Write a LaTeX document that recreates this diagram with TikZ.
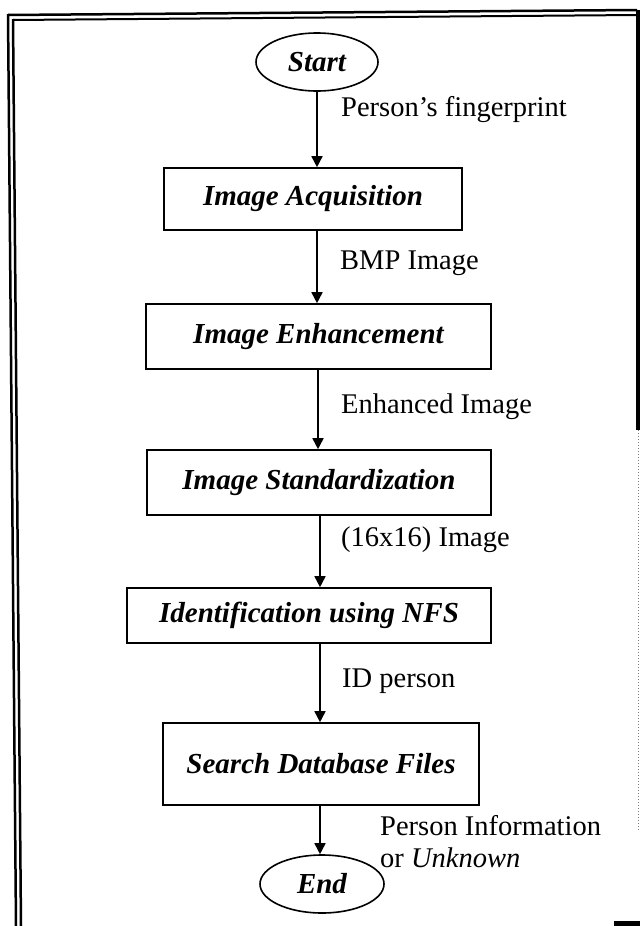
\documentclass[tikz,border=0pt]{standalone}
\usepackage{fontspec}
\setmainfont{Liberation Serif}
\usetikzlibrary{arrows.meta,shapes.geometric}
\tikzset{
  procbox/.style={draw, line width=1.6pt, rectangle, inner sep=0pt,
    font=\fontsize{29}{31}\selectfont\bfseries\itshape},
  term/.style={draw, line width=1.6pt, ellipse, inner sep=0pt,
    font=\fontsize{29}{31}\selectfont\bfseries\itshape},
  lbl/.style={anchor=west, inner sep=0pt, font=\fontsize{28.5}{32}\selectfont},
  arr/.style={line width=1.6pt, -{Triangle[length=11pt,width=11pt]}},
  frameline/.style={line width=5pt}
}
\begin{document}
\begin{tikzpicture}[x=1pt,y=-1pt]
\useasboundingbox (0,0) rectangle (640,926);
% frame
\draw[line width=2.5pt] (8,14) -- (16,926);
\draw[line width=2.5pt] (13,19) -- (21,926);
\draw[line width=2.5pt] (8,15) -- (637,10);
\draw[line width=2pt] (13,20) -- (637,15);
\draw[line width=3.5pt] (638,10) -- (638,430);
\draw[line width=1pt, dotted, gray] (638,430) -- (638,830);
\fill (614,921) rectangle (640,926);
% nodes
\node[term, minimum width=122pt, minimum height=58pt] (start) at (317,62) {Start};
\node[procbox, minimum width=298pt, minimum height=62pt] (acq) at (313,199) {Image Acquisition};
\node[procbox, minimum width=345pt, minimum height=65pt] (enh) at (318.5,336.5) {Image Enhancement};
\node[procbox, minimum width=344pt, minimum height=65pt] (std) at (319,482.5) {Image Standardization};
\node[procbox, minimum width=364pt, minimum height=55pt] (nfs) at (309,615.5) {Identification using NFS};
\node[procbox, minimum width=316pt, minimum height=82pt] (db) at (321,764) {Search Database Files};
\node[term, minimum width=124pt, minimum height=58pt] (end) at (322,884) {End};
% arrow columns
\coordinate (c1) at (317,0);
\coordinate (c2) at (317,0);
\coordinate (c3) at (318,0);
\coordinate (c4) at (320,0);
\coordinate (c5) at (320,0);
\coordinate (c6) at (320,0);
\draw[arr] (start.south -| c1) -- (acq.north -| c1);
\draw[arr] (acq.south -| c2) -- (enh.north -| c2);
\draw[arr] (enh.south -| c3) -- (std.north -| c3);
\draw[arr] (std.south -| c4) -- (nfs.north -| c4);
\draw[arr] (nfs.south -| c5) -- (db.north -| c5);
\draw[arr] (db.south -| c6) -- (end.north -| c6);
% labels
\node[lbl] (l1) at (341,110) {Person's fingerprint};
\node[lbl] (l2) at (340,263) {BMP Image};
\node[lbl] (l3) at (341,407) {Enhanced Image};
\node[lbl] (l4) at (341,540) {(16x16) Image};
\node[lbl] (l5) at (342,681) {ID person};
\node[lbl, align=left] (l6) at (380,842) {Person Information\\or \textit{Unknown}};
\end{tikzpicture}
\end{document}
